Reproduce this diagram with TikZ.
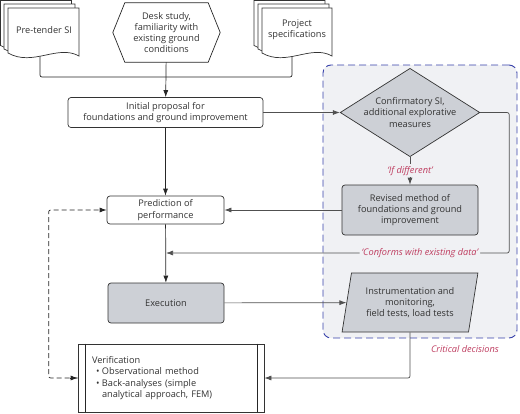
\documentclass[tikz,border=0pt]{standalone}
\usepackage{fontspec}
\setmainfont{Open Sans}
\usetikzlibrary{arrows.meta,shapes.geometric}

\definecolor{boxgray}{RGB}{205,208,214}
\definecolor{panelbg}{RGB}{240,241,244}
\definecolor{panelblue}{RGB}{55,65,170}
\definecolor{notered}{RGB}{190,60,95}
\definecolor{linegray}{RGB}{80,80,80}

% one sheet of a document stack: x, y, width
\newcommand{\docpage}[3]{%
  \draw[draw=black!80, line width=0.7pt, fill=white] (#1,#2) -- ({#1+#3},#2) -- ({#1+#3},{#2+48})
    .. controls ({#1+0.7*#3},{#2+36}) and ({#1+0.35*#3},{#2+59}) .. (#1,{#2+45}) -- cycle;}

\begin{document}
\begin{tikzpicture}[x=1pt,y=-1pt,
    >={Latex[length=7pt,width=5pt]},
    every node/.style={font=\fontsize{9.2}{11.3}\selectfont, text=black!80, align=center},
    plain/.style={draw=black!80, line width=0.7pt, rounded corners=3pt, fill=white, inner sep=0pt},
    shaded/.style={plain, fill=boxgray},
    link/.style={draw=linegray, line width=0.7pt},
    main/.style={draw=black!85, line width=0.7pt},
    note/.style={text=notered, font=\fontsize{9.2}{11.3}\selectfont\itshape, fill=panelbg, inner sep=2pt}]

  \useasboundingbox (0,0) rectangle (520,413);

  % panel of the critical decisions
  \node[draw=panelblue, fill=panelbg, dash pattern=on 7pt off 4pt, line width=0.9pt,
    rounded corners=8pt, minimum width=194pt, minimum height=273pt] (panel) at (420,201.5) {};
  \node[note, fill=none] (critical) at (465,349) {Critical decisions};

  % sources
  \coordinate (pretender-b) at (40,56);
  \coordinate (projspec-b) at (292,56);
  \coordinate (merge) at (166,77);
  \draw[main, rounded corners=2pt] (pretender-b) |- (merge) -| (projspec-b);

  \docpage{0.5}{0.5}{71} \docpage{4}{4}{71} \docpage{8}{8}{71}
  \node (pretender) at (44,30) {Pre-tender SI};

  \docpage{254}{0.5}{71} \docpage{258}{4}{71} \docpage{262}{8}{70}
  \node (projspec) at (297,30) {Project\\specifications};

  \node[minimum width=107pt, minimum height=59pt, inner sep=0pt] (desk) at (166.5,32.5)
    {Desk study,\\familiarity with\\existing ground\\conditions};
  \draw[main] (desk.west) -- ([xshift=12pt]desk.north west) -- ([xshift=-12pt]desk.north east)
    -- (desk.east) -- ([xshift=-12pt]desk.south east) -- ([xshift=12pt]desk.south west) -- cycle;

  % main column
  \node[plain, minimum width=195pt, minimum height=30pt] (initial) at (165.5,112.5)
    {Initial proposal for\\foundations and ground improvement};
  \node[plain, minimum width=117pt, minimum height=28pt] (pred) at (165.5,210)
    {Prediction of\\performance};
  \node[shaded, minimum width=116pt, minimum height=40pt] (exec) at (166,303) {Execution};
  \node[plain, rounded corners=0pt, text width=158pt, inner xsep=14pt, inner ysep=0pt,
    minimum height=68pt, align=left] (verif) at (171,378)
    {Verification\\
     \hspace*{4pt}\makebox[6pt][l]{\textbullet}Observational method\\
     \hspace*{4pt}\makebox[6pt][l]{\textbullet}Back-analyses (simple\\
     \hspace*{10pt}analytical approach, FEM)};
  \draw[main] ([xshift=8pt]verif.north west) -- ([xshift=8pt]verif.south west);
  \draw[main] ([xshift=-7pt]verif.north east) -- ([xshift=-7pt]verif.south east);

  % right column
  \node[shaded, diamond, rounded corners=0pt, aspect=1.58, minimum width=136pt,
    minimum height=86pt] (confirm) at (410,112.5)
    {Confirmatory SI,\\additional explorative\\measures};
  \node[shaded, minimum width=136pt, minimum height=50pt] (revised) at (410,210)
    {Revised method of\\foundations and ground\\improvement};
  \node[shaded, trapezium, rounded corners=0pt, trapezium left angle=77,
    trapezium right angle=103, trapezium stretches=true, minimum width=136pt,
    minimum height=59pt] (instr) at (410,302.5)
    {Instrumentation and\\monitoring,\\field tests, load tests};

  % connectors
  \coordinate (conforms) at (166,253);
  \draw[main,->] (desk) -- (initial);
  \draw[main,->] (initial) -- (pred);
  \draw[main,->] (pred) -- (exec);
  \draw[link,->] (initial) -- (confirm);
  \draw[link,->] (confirm) -- node[note] {‘If different’} (revised);
  \draw[link,->] (revised) -- (pred);
  \draw[link,->, rounded corners=2pt] (confirm.east) -- ++(29,0)
    |- node[note, pos=0.63] {‘Conforms with existing data’} (conforms);
  \draw[link,->] (exec) -- (instr);
  \draw[link,->, rounded corners=2pt] (instr.south) |- (verif.east);
  \draw[main,->, dashed, dash pattern=on 5pt off 3pt, rounded corners=2pt]
    (verif.west) -- ++(-29,0) |- (pred.west);
  \draw[main,->] ([xshift=-8pt]verif.west) -- (verif.west);
\end{tikzpicture}
\end{document}
